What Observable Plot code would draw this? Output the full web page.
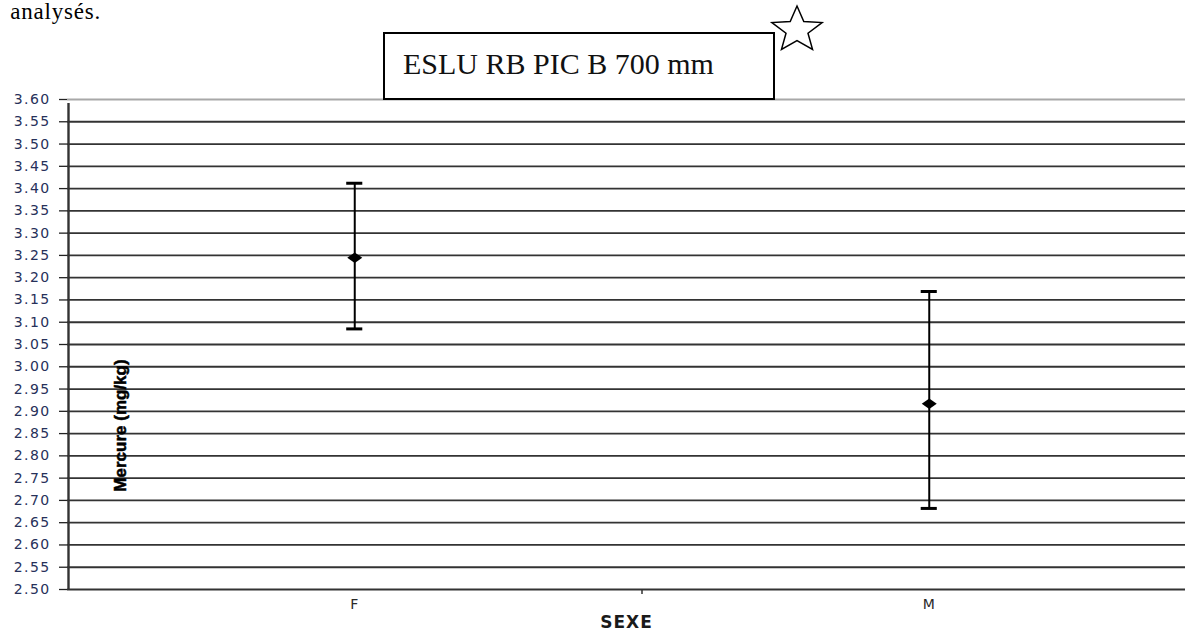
<!DOCTYPE html>
<html>
<head>
<meta charset="utf-8">
<script src="https://cdn.jsdelivr.net/npm/d3@7"></script>
<script src="https://cdn.jsdelivr.net/npm/@observablehq/plot@0.6"></script>
<style>
  html, body { margin: 0; padding: 0; background: #fff; }
  #page { position: relative; width: 1185px; height: 637px; overflow: hidden; }
  #chart { position: absolute; left: 0; top: 0; }
  #lead { position: absolute; right: 1084px; top: 0px; font: 23px/1 "Liberation Serif", "Times New Roman", serif; color: #000; white-space: nowrap; letter-spacing: 0.8px; }
  #titlebox { position: absolute; left: 383px; top: 32px; width: 388px; height: 64px; border: 2px solid #000; background: #fff;
              font: 30px "Liberation Serif", "Times New Roman", serif; color: #111; box-sizing: content-box; }
  #titlebox span { position: absolute; left: 18px; top: 15px; white-space: nowrap; line-height: 1; }
  #star { position: absolute; left: 0; top: 0; }
  #chart g[aria-label="y-axis tick label"] text { letter-spacing: 1.4px; }
  #chart g[aria-label="x-axis tick label"] text { letter-spacing: 1px; }
  #chart .xtitle text { letter-spacing: 1px; }
</style>
</head>
<body>
<div id="page">
  <div id="chart"></div>
  <div id="lead">analysés.</div>
  <div id="titlebox"><span>ESLU RB PIC B 700 mm</span></div>
  <svg id="star" width="1185" height="80"></svg>
</div>
<script>
// Mean mercury concentration by sex, with confidence limits
const categories = ["F", "M"];
const means = [3.245, 2.917];
const lows = [3.085, 2.682];
const highs = [3.412, 3.169];
const yTicks = d3.range(0, 23).map(i => +(2.5 + i * 0.05).toFixed(2));
const yLabel = "Mercure (mg/kg)";
const xLabel = "SEXE";

const rows = categories.map((c, i) => ({
  sexe: c, pos: i + 0.5, mean: means[i], low: lows[i], high: highs[i]
}));

// Horizontal diamond marker
const wideDiamond = {
  draw(context, size) {
    const r = Math.sqrt(size / Math.PI);
    context.moveTo(0, -0.7 * r);
    context.lineTo(r, 0);
    context.lineTo(0, 0.7 * r);
    context.lineTo(-r, 0);
    context.closePath();
  }
};

const capHalf = 0.014;
const wide = "'DejaVu Sans', Verdana, sans-serif";

const chart = Plot.plot({
  width: 1185,
  height: 637,
  marginLeft: 67,
  marginTop: 99,
  marginBottom: 48,
  marginRight: 0,
  style: { fontFamily: "'Liberation Sans', Arial, sans-serif", background: "transparent", overflow: "visible" },
  x: { type: "linear", domain: [0, 2], range: [67, 1216] },
  y: { domain: [2.5, 3.6] },
  marks: [
    // grid lines at each 0.05 step
    Plot.ruleY(yTicks.filter(t => t < 3.6), { stroke: "#333", strokeWidth: 1.8 }),
    Plot.ruleY([3.6], { stroke: "#a8a8a8", strokeWidth: 1.8 }),
    // y axis
    Plot.axisY({ ticks: yTicks, tickFormat: d3.format(".2f"), tickSize: 8, tickPadding: 9,
                 fontSize: 14, fontFamily: wide, color: "#27315a", stroke: "#222", strokeWidth: 1.3, label: null }),
    Plot.ruleX([0], { y1: 2.5, y2: 3.6, stroke: "#333", strokeWidth: 2.4, dx: 1, insetBottom: -4 }),
    // x axis: category labels and the divider tick
    Plot.axisX({ ticks: rows.map(d => d.pos), tickFormat: (d, i) => categories[i], tickSize: 0, tickPadding: 10,
                 fontSize: 14, fontFamily: wide, color: "#2a2a2a", label: null }),
    Plot.axisX({ ticks: [1], tickFormat: () => "", tickSize: 5, stroke: "#333", strokeWidth: 1.5, label: null }),
    Plot.text([xLabel], { frameAnchor: "bottom", dy: 38, fontSize: 17, fontWeight: "bold", fontFamily: wide,
                          fill: "#1a1a1a", className: "xtitle" }),
    Plot.text([yLabel], { frameAnchor: "left", textAnchor: "middle", dx: 53, dy: 81, rotate: -90, fontSize: 17,
                          fontWeight: "bold", fill: "#000", stroke: "#000", strokeWidth: 0.5 }),
    // error bars
    Plot.ruleX(rows, { x: "pos", y1: "low", y2: "high", stroke: "#000", strokeWidth: 2 }),
    Plot.ruleY(rows, { y: "high", x1: d => d.pos - capHalf, x2: d => d.pos + capHalf, stroke: "#000", strokeWidth: 3 }),
    Plot.ruleY(rows, { y: "low", x1: d => d.pos - capHalf, x2: d => d.pos + capHalf, stroke: "#000", strokeWidth: 3 }),
    // means
    Plot.dot(rows, { x: "pos", y: "mean", symbol: wideDiamond, r: 7.5, fill: "#000", stroke: "none" })
  ]
});
document.getElementById("chart").append(chart);

// outlined star next to the title box
const star = d3.select("#star");
const cx = 797, cy = 30, R = 24, r = 10.5;
const pts = d3.range(10).map(i => {
  const a = -Math.PI / 2 + i * Math.PI / 5;
  const rad = i % 2 === 0 ? R : r;
  return [cx + rad * Math.cos(a) * 1.1, cy + rad * Math.sin(a)];
});
star.append("polygon")
  .attr("points", pts.map(p => p.join(",")).join(" "))
  .attr("fill", "none").attr("stroke", "#000").attr("stroke-width", 1.5);
</script>
</body>
</html>
